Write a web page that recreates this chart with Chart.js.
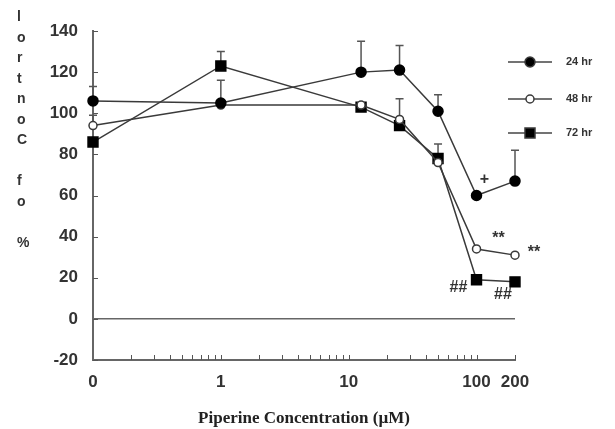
<!DOCTYPE html>
<html>
<head>
<meta charset="utf-8">
<script src="https://cdn.jsdelivr.net/npm/chart.js@4/dist/chart.umd.min.js"></script>
<style>
  html, body { margin: 0; padding: 0; background: #fff; }
  #wrap { width: 615px; height: 429px; position: relative; }
</style>
</head>
<body>
<div id="wrap"><canvas id="chart"></canvas></div>
<script>
// concentrations (µM); 0 is placed at the axis origin (0.1 on the log scale)
const concentrations = [0, 1, 12.5, 25, 50, 100, 200];
const seriesLabels = ["24 hr", "48 hr", "72 hr"];
const values24 = [106, 105, 120, 121, 101, 60, 67];
const values48 = [94, 104, 104, 97, 76, 34, 31];
const values72 = [86, 123, 103, 94, 78, 19, 18];
// upper error bars
const err24 = [7, 11, 15, 12, 8, 0, 15];
const err48 = [5, 0, 0, 10, 9, 0, 0];
const err72 = [0, 7, 0, 0, 0, 0, 0];
const xTickValues = [0, 1, 10, 100, 200];
const yTickValues = [140, 120, 100, 80, 60, 40, 20, 0, -20];
// significance marks: [series index, point index, text]
const marks = [[0, 5, "+"], [1, 5, "**"], [1, 6, "**"], [2, 5, "##"], [2, 6, "##"]];

const LOG_ZERO = 0.1;
const toX = c => (c === 0 ? LOG_ZERO : c);
const ink = "#3a3a3a";

function pts(vals) {
    return vals.map((v, i) => ({ x: toX(concentrations[i]), y: v }));
}

const errors = [err24, err48, err72];
const markOffsets = [[8, -16], [22, -10], [19, -3], [-18, 8], [-12, 13]];

const extras = {
    id: "extras",
    afterDraw(chart) {
        const ctx = chart.ctx;
        const xs = chart.scales.x, ys = chart.scales.y;
        const area = chart.chartArea;
        ctx.save();
        ctx.strokeStyle = "#555";
        ctx.lineWidth = 1;
        // inward y ticks
        yTickValues.forEach(v => {
            const py = Math.round(ys.getPixelForValue(v)) + 0.5;
            ctx.beginPath();
            ctx.moveTo(area.left, py);
            ctx.lineTo(area.left + 5, py);
            ctx.stroke();
        });
        // inward minor x ticks
        const minor = [];
        [0.1, 1, 10].forEach(d => { for (let k = 2; k <= 10; k++) minor.push(d * k); });
        minor.push(200);
        minor.forEach(v => {
            const px = Math.round(xs.getPixelForValue(v)) + 0.5;
            ctx.beginPath();
            ctx.moveTo(px, area.bottom);
            ctx.lineTo(px, area.bottom - 5);
            ctx.stroke();
        });
        ctx.restore();

        // y title, one upright letter per row
        ctx.save();
        ctx.fillStyle = "#333";
        ctx.font = "bold 14px Arial, 'Liberation Sans'";
        ctx.textBaseline = "middle";
        const chars = Array.from("% of Control");
        chars.forEach((ch, i) => {
            ctx.fillText(ch, 17, 243 - i * 20.5);
        });
        ctx.restore();

        // significance marks
        ctx.save();
        ctx.fillStyle = "#333";
        ctx.font = "bold 16px Arial, 'Liberation Sans'";
        ctx.textAlign = "center";
        ctx.textBaseline = "middle";
        marks.forEach((m, i) => {
            const el = chart.getDatasetMeta(m[0]).data[m[1]];
            ctx.fillText(m[2], el.x + markOffsets[i][0], el.y + markOffsets[i][1]);
        });
        ctx.restore();

        // legend
        ctx.save();
        const rows = [62, 99, 133];
        chart.data.datasets.forEach((ds, i) => {
            const y = rows[i];
            ctx.strokeStyle = "#444";
            ctx.lineWidth = 1.5;
            ctx.beginPath();
            ctx.moveTo(508, y);
            ctx.lineTo(552, y);
            ctx.stroke();
            ctx.fillStyle = ds.pointBackgroundColor;
            ctx.strokeStyle = ink;
            ctx.beginPath();
            if (ds.pointStyle === "rect") {
                ctx.rect(525, y - 5, 10, 10);
            } else {
                ctx.arc(530, y, ds.pointRadius, 0, Math.PI * 2);
            }
            ctx.fill();
            ctx.stroke();
            ctx.fillStyle = "#333";
            ctx.font = "bold 11px Arial, 'Liberation Sans'";
            ctx.textBaseline = "middle";
            ctx.fillText(ds.label, 566, y);
        });
        ctx.restore();
    },
    beforeDatasetsDraw(chart) {
        // upper error bars
        const ctx = chart.ctx;
        const ys = chart.scales.y;
        ctx.save();
        ctx.strokeStyle = "#555";
        ctx.lineWidth = 1.5;
        errors.forEach((errs, d) => {
            const meta = chart.getDatasetMeta(d);
            errs.forEach((e, i) => {
                if (!e) return;
                const el = meta.data[i];
                const top = ys.getPixelForValue(chart.data.datasets[d].data[i].y + e);
                ctx.beginPath();
                ctx.moveTo(el.x, el.y);
                ctx.lineTo(el.x, top);
                ctx.moveTo(el.x - 4, top);
                ctx.lineTo(el.x + 4, top);
                ctx.stroke();
            });
        });
        ctx.restore();
    }
};

const tickFont = { family: "Arial, 'Liberation Sans'", size: 17, weight: "bold" };

new Chart(document.getElementById("chart"), {
    type: "line",
    data: {
        datasets: [
            {
                label: seriesLabels[0], data: pts(values24),
                borderColor: ink, borderWidth: 1.5, clip: false,
                pointStyle: "circle", pointRadius: 5,
                pointBackgroundColor: "#000", pointBorderColor: "#000"
            },
            {
                label: seriesLabels[1], data: pts(values48),
                borderColor: ink, borderWidth: 1.5, clip: false,
                pointStyle: "circle", pointRadius: 4, pointBorderWidth: 1.5,
                pointBackgroundColor: "#fff", pointBorderColor: ink
            },
            {
                label: seriesLabels[2], data: pts(values72),
                borderColor: ink, borderWidth: 1.5, clip: false,
                pointStyle: "rect", pointRadius: 7,
                pointBackgroundColor: "#000", pointBorderColor: "#000"
            }
        ]
    },
    options: {
        responsive: true,
        maintainAspectRatio: false,
        animation: false,
        layout: { padding: { left: 0, right: 100, top: 31, bottom: 0 } },
        plugins: { legend: { display: false }, tooltip: { enabled: false } },
        scales: {
            x: {
                type: "logarithmic",
                min: LOG_ZERO,
                max: 200,
                afterBuildTicks: s => { s.ticks = xTickValues.map(v => ({ value: toX(v) })); },
                afterFit: s => { s.height = 69; },
                ticks: {
                    autoSkip: false, maxRotation: 0, padding: 12,
                    color: "#333", font: tickFont,
                    callback: v => (v === LOG_ZERO ? "0" : String(v))
                },
                grid: { display: false, drawTicks: false },
                border: { display: true, color: "#666", width: 2 },
                title: {
                    display: true,
                    text: "Piperine Concentration (µM)",
                    color: "#222",
                    font: { family: "'Liberation Serif', 'Times New Roman', serif", size: 17, weight: "bold" },
                    padding: { top: 0, bottom: 0 }
                }
            },
            y: {
                min: -20,
                max: 140,
                afterBuildTicks: s => { s.ticks = yTickValues.map(v => ({ value: v })); },
                afterFit: s => { s.width = 93; },
                ticks: { padding: 15, color: "#333", font: tickFont },
                grid: {
                    drawTicks: false,
                    color: c => (c.tick && c.tick.value === 0 ? "#666" : "rgba(0,0,0,0)"),
                    lineWidth: 1.5
                },
                border: { display: true, color: "#666", width: 2 }
            }
        }
    },
    plugins: [extras]
});
</script>
</body>
</html>
